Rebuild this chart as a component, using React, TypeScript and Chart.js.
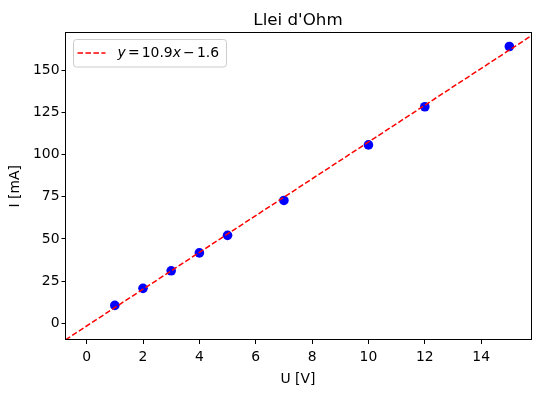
import { useEffect, useRef } from "react";
import { Chart, registerables } from "chart.js";
Chart.register(...registerables);

const voltage = [1, 2, 3, 4, 5, 7, 10, 12, 15];
const current = [10.6, 20.7, 31.1, 41.7, 52.1, 72.8, 105.7, 128.3, 164.0];
const fitSlope = 10.9;
const fitIntercept = -1.6;
const fitXRange = [-0.75, 15.75];
const xTicks = [0, 2, 4, 6, 8, 10, 12, 14];
const yTicks = [0, 25, 50, 75, 100, 125, 150];
const chartTitle = "Llei d'Ohm";
const xLabel = "U [V]";
const yLabel = "I [mA]";

const FONT = "'DejaVu Sans', sans-serif";

const framePlugin = {
  id: "frame",
  afterDraw(chart: any) {
    const { ctx, chartArea } = chart;
    const { left, right, top, bottom } = chartArea;
    ctx.save();
    // frame
    ctx.strokeStyle = "#000";
    ctx.lineWidth = 1;
    ctx.strokeRect(Math.round(left) - 0.5, Math.round(top) - 0.5, Math.round(right) - Math.round(left) + 1, Math.round(bottom) - Math.round(top));
    // title
    ctx.fillStyle = "#000";
    ctx.font = `16.7px ${FONT}`;
    ctx.textAlign = "center";
    ctx.textBaseline = "alphabetic";
    ctx.fillText(chartTitle, (left + right) / 2, 25);
    // legend
    const lx = left + 8, ly = top + 7, lw = 153, lh = 27.5, r = 3;
    ctx.beginPath();
    ctx.moveTo(lx + r, ly);
    ctx.lineTo(lx + lw - r, ly);
    ctx.arcTo(lx + lw, ly, lx + lw, ly + r, r);
    ctx.lineTo(lx + lw, ly + lh - r);
    ctx.arcTo(lx + lw, ly + lh, lx + lw - r, ly + lh, r);
    ctx.lineTo(lx + r, ly + lh);
    ctx.arcTo(lx, ly + lh, lx, ly + lh - r, r);
    ctx.lineTo(lx, ly + r);
    ctx.arcTo(lx, ly, lx + r, ly, r);
    ctx.closePath();
    ctx.fillStyle = "rgba(255,255,255,0.8)";
    ctx.fill();
    ctx.strokeStyle = "#cccccc";
    ctx.lineWidth = 1;
    ctx.stroke();
    const cy = ly + 13.5;
    ctx.strokeStyle = "#ff0000";
    ctx.lineWidth = 1.5;
    ctx.setLineDash([5.55, 2.4]);
    ctx.beginPath();
    ctx.moveTo(lx + 4, cy);
    ctx.lineTo(lx + 32, cy);
    ctx.stroke();
    ctx.setLineDash([]);
    const sign = fitIntercept < 0 ? "\u2212" : "+";
    const parts = [
      { t: "y", it: true, gap: 2.2 },
      { t: "=", it: false, gap: 2.2 },
      { t: `${fitSlope}`, it: false, gap: 0 },
      { t: "x", it: true, gap: 2.2 },
      { t: sign, it: false, gap: 2.2 },
      { t: `${Math.abs(fitIntercept)}`, it: false, gap: 0 },
    ];
    let tx = lx + 44;
    ctx.fillStyle = "#000";
    ctx.textAlign = "left";
    ctx.textBaseline = "middle";
    for (const p of parts) {
      ctx.font = `${p.it ? "italic " : ""}13.9px ${FONT}`;
      ctx.fillText(p.t, tx, cy + 0.5);
      tx += ctx.measureText(p.t).width + p.gap;
    }
    ctx.restore();
  },
};

export default function App() {
  const ref = useRef<HTMLCanvasElement>(null);
  useEffect(() => {
    if (!ref.current) return;
    const lineData = fitXRange.map((x) => ({ x, y: fitSlope * x + fitIntercept }));
    const pts = voltage.map((x, i) => ({ x, y: current[i] }));
    const tickFont = { family: FONT, size: 13.9 };
    const chart = new Chart(ref.current, {
      type: "scatter",
      data: {
        datasets: [
          {
            data: lineData,
            showLine: true,
            borderColor: "#ff0000",
            borderWidth: 1.5,
            borderDash: [5.55, 2.4],
            pointRadius: 0,
            clip: 0 as any,
          },
          {
            data: pts,
            backgroundColor: "#0000ff",
            borderWidth: 0,
            pointRadius: 4.8,
            pointHoverRadius: 4.8,
          },
        ],
      },
      options: {
        animation: false,
        responsive: false,
        events: [],
        layout: { padding: { top: 32.5, right: 9.5, left: 0, bottom: 0 } },
        plugins: { legend: { display: false }, tooltip: { enabled: false }, title: { display: false } },
        scales: {
          x: {
            type: "linear",
            min: -0.75,
            max: 15.75,
            afterBuildTicks: (s: any) => { s.ticks = xTicks.map((v) => ({ value: v })); },
            afterFit: (s: any) => { s.height = 53; },
            grid: { display: true, drawOnChartArea: false, drawTicks: true, tickLength: 4, color: "#000", lineWidth: 1 },
            border: { display: false },
            ticks: { color: "#000", font: tickFont, padding: 5, maxRotation: 0 },
            title: { display: true, text: xLabel, color: "#000", font: tickFont, padding: { top: 0, bottom: 5 } },
          },
          y: {
            type: "linear",
            min: -9.9,
            max: 172.3,
            afterBuildTicks: (s: any) => { s.ticks = yTicks.map((v) => ({ value: v })); },
            afterFit: (s: any) => { s.width = 65.5; },
            grid: { display: true, drawOnChartArea: false, drawTicks: true, tickLength: 4, color: "#000", lineWidth: 1 },
            border: { display: false },
            ticks: { color: "#000", font: tickFont, padding: 2 },
            title: { display: true, text: yLabel, color: "#000", font: tickFont, padding: { top: 6.6, bottom: 0 } },
          },
        },
      },
      plugins: [framePlugin],
    });
    return () => chart.destroy();
  }, []);
  return (
    <div style={{ position: "absolute", left: 0, top: 0, width: 540, height: 393, background: "#fff" }}>
      <canvas ref={ref} width={540} height={393} />
    </div>
  );
}
